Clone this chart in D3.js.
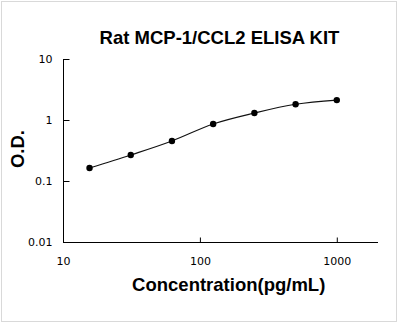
<!DOCTYPE html>
<html>
<head>
<meta charset="utf-8">
<script src="https://cdn.jsdelivr.net/npm/d3@7"></script>
<style>
  html, body { margin: 0; padding: 0; background: #fff; }
  svg { display: block; }
</style>
</head>
<body>
<svg id="chart" width="398" height="323"></svg>
<script>
const concentrations = [15.625, 31.25, 62.5, 125, 250, 500, 1000];
const odValues = [0.163, 0.267, 0.453, 0.86, 1.30, 1.81, 2.12];
const xMajorTicks = [10, 100, 1000];
const xMinorTicks = [20,30,40,50,60,70,80,90,200,300,400,500,600,700,800,900,2000];
const yMajorTicks = [0.01, 0.1, 1, 10];
const yMinorTicks = [0.02,0.03,0.04,0.05,0.06,0.07,0.08,0.09,0.2,0.3,0.4,0.5,0.6,0.7,0.8,0.9,2,3,4,5,6,7,8,9];
const titleText = "Rat MCP-1/CCL2 ELISA KIT";
const xLabel = "Concentration(pg/mL)";
const yLabel = "O.D.";

const svg = d3.select("#chart");

// outer border
svg.append("rect").attr("x", 1.5).attr("y", 1.5).attr("width", 395).attr("height", 320)
  .attr("fill", "none").attr("stroke", "#d9d9d9").attr("stroke-width", 1);

const x = d3.scaleLog().domain([10, 2000]).range([63, 378]);
const y = d3.scaleLog().domain([0.01, 10]).range([242, 59]);

const tickFont = "'DejaVu Sans', Verdana, sans-serif";

// X axis
const gx = svg.append("g").attr("transform", "translate(0,242.5)");
gx.call(d3.axisBottom(x).tickValues(xMinorTicks).tickSize(-5).tickFormat(""));
gx.call(d3.axisBottom(x).tickValues(xMajorTicks).tickSize(-5).tickSizeOuter(0).tickPadding(14.5).tickFormat(d3.format("d")));
gx.selectAll("text").attr("font-family", tickFont).attr("font-size", 11).attr("fill", "#000");
gx.selectAll("path.domain").attr("stroke", "#000").attr("d", `M${x(10)},0H${x(2000)}`);

// Y axis
const gy = svg.append("g").attr("transform", "translate(63.5,0)");
gy.call(d3.axisLeft(y).tickValues(yMinorTicks).tickSize(-3).tickFormat(""));
gy.call(d3.axisLeft(y).tickValues(yMajorTicks).tickSize(-6).tickSizeOuter(0).tickPadding(11)
  .tickFormat(d => String(d)));
gy.selectAll("text").attr("font-family", tickFont).attr("font-size", 11).attr("fill", "#000");
gy.selectAll("path.domain").attr("stroke", "#000").attr("d", `M0,${y(0.01)}V${y(10)}`);
svg.selectAll(".tick line").attr("stroke", "#000");

// curve
const pts = concentrations.map((c, i) => [x(c), y(odValues[i])]);
svg.append("path")
  .attr("d", d3.line().curve(d3.curveCatmullRom.alpha(0.5))(pts))
  .attr("fill", "none").attr("stroke", "#111").attr("stroke-width", 1.1);

svg.selectAll("circle.pt").data(pts).enter().append("circle")
  .attr("class", "pt")
  .attr("cx", d => d[0]).attr("cy", d => d[1]).attr("r", 3.2).attr("fill", "#000");

// titles
const boldFont = "'Liberation Sans', Arial, sans-serif";
svg.append("text").attr("x", 219.5).attr("y", 44).attr("text-anchor", "middle")
  .attr("font-family", boldFont).attr("font-weight", "bold").attr("font-size", 18.5)
  .attr("fill", "#000").text(titleText);

svg.append("text").attr("x", 228.7).attr("y", 291).attr("text-anchor", "middle")
  .attr("font-family", boldFont).attr("font-weight", "bold").attr("font-size", 18.5)
  .attr("fill", "#000").text(xLabel);

svg.append("text").attr("transform", "translate(24,149) rotate(-90)").attr("text-anchor", "middle")
  .attr("font-family", boldFont).attr("font-weight", "bold").attr("font-size", 18.5)
  .attr("fill", "#000").text(yLabel);
</script>
</body>
</html>
